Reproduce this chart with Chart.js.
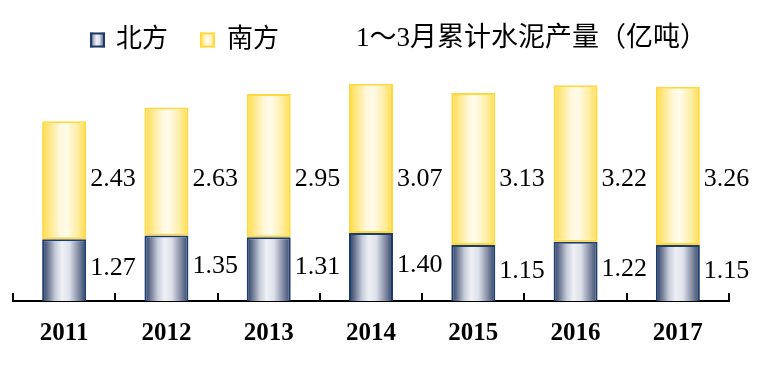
<!DOCTYPE html>
<html>
<head>
<meta charset="utf-8">
<script src="https://cdn.jsdelivr.net/npm/chart.js@4/dist/chart.umd.min.js"></script>
<style>
html,body{margin:0;padding:0;background:#fff;}
#wrap{width:764px;height:368px;position:relative;}
</style>
</head>
<body>
<div id="wrap"><canvas id="c" width="764" height="368"></canvas></div>
<script>
const years = ['2011','2012','2013','2014','2015','2016','2017'];
const north = [1.27, 1.35, 1.31, 1.40, 1.15, 1.22, 1.15];
const south = [2.43, 2.63, 2.95, 3.07, 3.13, 3.22, 3.26];
const seriesNames = ['北方', '南方'];
const titleText = '1～3月累计水泥产量（亿吨）';

const CAT_PCT = 0.43;
const SERIF = '"Liberation Serif", "Noto Sans CJK SC", serif';
const CJK = '"Liberation Serif", "Noto Sans CJK SC", sans-serif';

function northGrad(c, x0, w) {
  const g = c.createLinearGradient(x0, 0, x0 + w, 0);
  g.addColorStop(0.00, '#23396a');
  g.addColorStop(0.12, '#66718c');
  g.addColorStop(0.30, '#c6ccd9');
  g.addColorStop(0.45, '#eef0f5');
  g.addColorStop(0.62, '#dde1ea');
  g.addColorStop(0.82, '#878fa5');
  g.addColorStop(1.00, '#2f416c');
  return g;
}
function southGrad(c, x0, w) {
  const g = c.createLinearGradient(x0, 0, x0 + w, 0);
  g.addColorStop(0.00, '#ffdc4a');
  g.addColorStop(0.15, '#ffe680');
  g.addColorStop(0.40, '#fff8dc');
  g.addColorStop(0.55, '#fffbea');
  g.addColorStop(0.80, '#ffeea6');
  g.addColorStop(1.00, '#ffdc4a');
  return g;
}
function barFill(kind) {
  return (ctx) => {
    const chart = ctx.chart;
    const xs = chart.scales && chart.scales.x;
    const fb = kind === 'n' ? '#8d95aa' : '#fff1a8';
    if (!xs || ctx.dataIndex === undefined) return fb;
    const cw = (xs.right - xs.left) / years.length;
    const w = cw * CAT_PCT;
    const cx = xs.getPixelForValue(ctx.dataIndex);
    if (!isFinite(cx) || !isFinite(w) || w <= 0) return fb;
    return kind === 'n' ? northGrad(chart.ctx, cx - w / 2, w) : southGrad(chart.ctx, cx - w / 2, w);
  };
}

const decor = {
  id: 'decor',
  afterDraw(chart) {
    const c = chart.ctx;
    const xs = chart.scales.x;
    const ys = chart.scales.y;
    c.save();
    const cw = (xs.right - xs.left) / years.length;
    c.strokeStyle = '#000';
    c.lineWidth = 2;
    for (let i = 0; i <= years.length; i++) {
      const x = Math.round(xs.left + i * cw);
      c.beginPath();
      c.moveTo(x, ys.bottom);
      c.lineTo(x, ys.bottom - 8);
      c.stroke();
    }
    c.fillStyle = '#000';
    c.font = '26px ' + SERIF;
    c.textAlign = 'left';
    c.textBaseline = 'middle';
    const m0 = chart.getDatasetMeta(0);
    for (let i = 0; i < years.length; i++) {
      const e0 = m0.data[i];
      const xr = e0.x + e0.width / 2 + 4;
      c.fillText(north[i].toFixed(2), xr, (e0.y + e0.base) / 2 - 2);
      c.fillText(south[i].toFixed(2), xr, ys.getPixelForValue(2.5));
    }
    const ly = 40;
    const sq = 15;
    const drawSq = (x, kind) => {
      c.fillStyle = kind === 'n' ? northGrad(c, x, sq) : southGrad(c, x, sq);
      c.fillRect(x, ly - sq / 2, sq, sq);
      c.strokeStyle = kind === 'n' ? '#1b3a6a' : '#ffd83a';
      c.lineWidth = 2;
      c.strokeRect(x + 1, ly - sq / 2 + 1, sq - 2, sq - 2);
    };
    drawSq(90, 'n');
    drawSq(200, 's');
    c.fillStyle = '#000';
    c.font = '26px ' + CJK;
    c.textBaseline = 'middle';
    c.fillText(seriesNames[0], 116, ly);
    c.fillText(seriesNames[1], 227, ly);
    c.font = '27px ' + CJK;
    c.fillText(titleText, 356, ly - 1);
    c.restore();
  }
};

new Chart(document.getElementById('c'), {
  type: 'bar',
  data: {
    labels: years,
    datasets: [
      {
        label: seriesNames[0], data: north,
        backgroundColor: barFill('n'),
        borderColor: '#1b3d6e', borderWidth: 2, borderSkipped: 'bottom',
        categoryPercentage: CAT_PCT, barPercentage: 1
      },
      {
        label: seriesNames[1], data: south,
        backgroundColor: barFill('s'),
        borderColor: '#ffd83d', borderWidth: 2, borderSkipped: false,
        categoryPercentage: CAT_PCT, barPercentage: 1
      }
    ]
  },
  options: {
    responsive: false,
    animation: false,
    devicePixelRatio: 1,
    layout: { padding: { left: 13, right: 35, top: 58, bottom: 1 } },
    plugins: { legend: { display: false }, tooltip: { enabled: false }, title: { display: false } },
    scales: {
      x: {
        stacked: true,
        grid: { display: false, drawTicks: false },
        border: { display: true, color: '#000', width: 2 },
        ticks: { color: '#000', font: { family: SERIF, size: 25, weight: 'bold' }, padding: 18 }
      },
      y: {
        stacked: true, display: false, min: 0, max: 5
      }
    }
  },
  plugins: [decor]
});
</script>
</body>
</html>
